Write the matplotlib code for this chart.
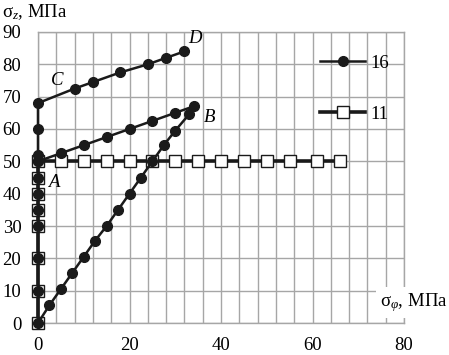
import matplotlib
matplotlib.use("Agg")
import matplotlib.pyplot as plt
from matplotlib.ticker import MultipleLocator

plt.rcParams["font.family"] = ["Liberation Serif", "DejaVu Serif"]
plt.rcParams["mathtext.fontset"] = "custom"
plt.rcParams["mathtext.rm"] = "Liberation Serif"
plt.rcParams["mathtext.it"] = "Liberation Serif:italic"

# series 16: path D -> C -> A -> B -> back down to origin -> up to A
PHI_16 = [32, 28, 24, 18, 12, 8, 0,
          0, 0, 0,
          5, 10, 15, 20, 25, 30, 34,
          33, 30, 27.5, 25, 22.5, 20, 17.5, 15, 12.5, 10, 7.5, 5, 2.5, 0,
          0, 0, 0, 0, 0, 0, 0]
Z_16 = [84, 82, 80, 77.5, 74.5, 72.5, 68,
        60, 52, 50,
        52.5, 55, 57.5, 60, 62.5, 65, 67,
        64.5, 59.5, 55, 50, 45, 40, 35, 30, 25.5, 20.5, 15.5, 10.5, 5.5, 0,
        10, 20, 30, 35, 40, 45, 50]

# series 11
PHI_11 = [0, 0, 0, 0, 0, 0, 0, 0, 5, 10, 15, 20, 25, 30, 35, 40, 45, 50, 55, 61, 66]
Z_11 = [0, 10, 20, 30, 35, 40, 45, 50, 50, 50, 50, 50, 50, 50, 50, 50, 50, 50, 50, 50, 50]

POINT_LABELS = ["A", "B", "C", "D"]
POINT_X = [3.4, 37.4, 4.2, 34.3]
POINT_Y = [43.5, 63.5, 75, 88]

FS = 13.5

fig = plt.figure(figsize=(4.49, 3.55), dpi=100)
ax = fig.add_axes([0.0846, 0.0901, 0.8153, 0.8198])

ax.plot(PHI_11, Z_11, color="#1a1a1a", lw=2.6, marker="s", ms=8.5,
        mfc="white", mec="#1a1a1a", mew=1.0, label="11", clip_on=False, zorder=3)
ax.plot(PHI_16, Z_16, color="#1a1a1a", lw=1.8, marker="o", ms=7,
        mfc="#1a1a1a", mec="#1a1a1a", label="16", clip_on=False, zorder=4)

for lab, px, py in zip(POINT_LABELS, POINT_X, POINT_Y):
    ax.text(px, py, lab, fontsize=FS, style="italic", ha="center", va="center")

ax.set_xlim(0, 80)
ax.set_ylim(0, 90)
ax.xaxis.set_major_locator(MultipleLocator(20))
ax.xaxis.set_minor_locator(MultipleLocator(4))
ax.yaxis.set_major_locator(MultipleLocator(10))
ax.grid(True, which="both", axis="x", color="#a6a6a6", lw=1.0)
ax.grid(True, which="major", axis="y", color="#a6a6a6", lw=1.0)
ax.set_axisbelow(True)
for s in ax.spines.values():
    s.set_color("#a6a6a6")
    s.set_linewidth(1.0)
ax.tick_params(which="both", length=0, labelsize=FS)
ax.tick_params(axis="y", pad=12)
ax.tick_params(axis="x", pad=10)

handles, labels = ax.get_legend_handles_labels()
ax.legend(handles[::-1], labels[::-1], loc="upper left", bbox_to_anchor=(0.725, 0.98),
          frameon=False, fontsize=FS, handlelength=2.4, labelspacing=1.8,
          handletextpad=0.25)

fig.text(0.005, 0.995, "σ$_z$, МПа", fontsize=FS, ha="left", va="top")
fig.text(0.998, 0.148, "σ$_φ$, МПа", fontsize=FS, ha="right", va="center",
         bbox=dict(facecolor="white", edgecolor="none", pad=3))

fig.savefig("out.png", dpi=100)
